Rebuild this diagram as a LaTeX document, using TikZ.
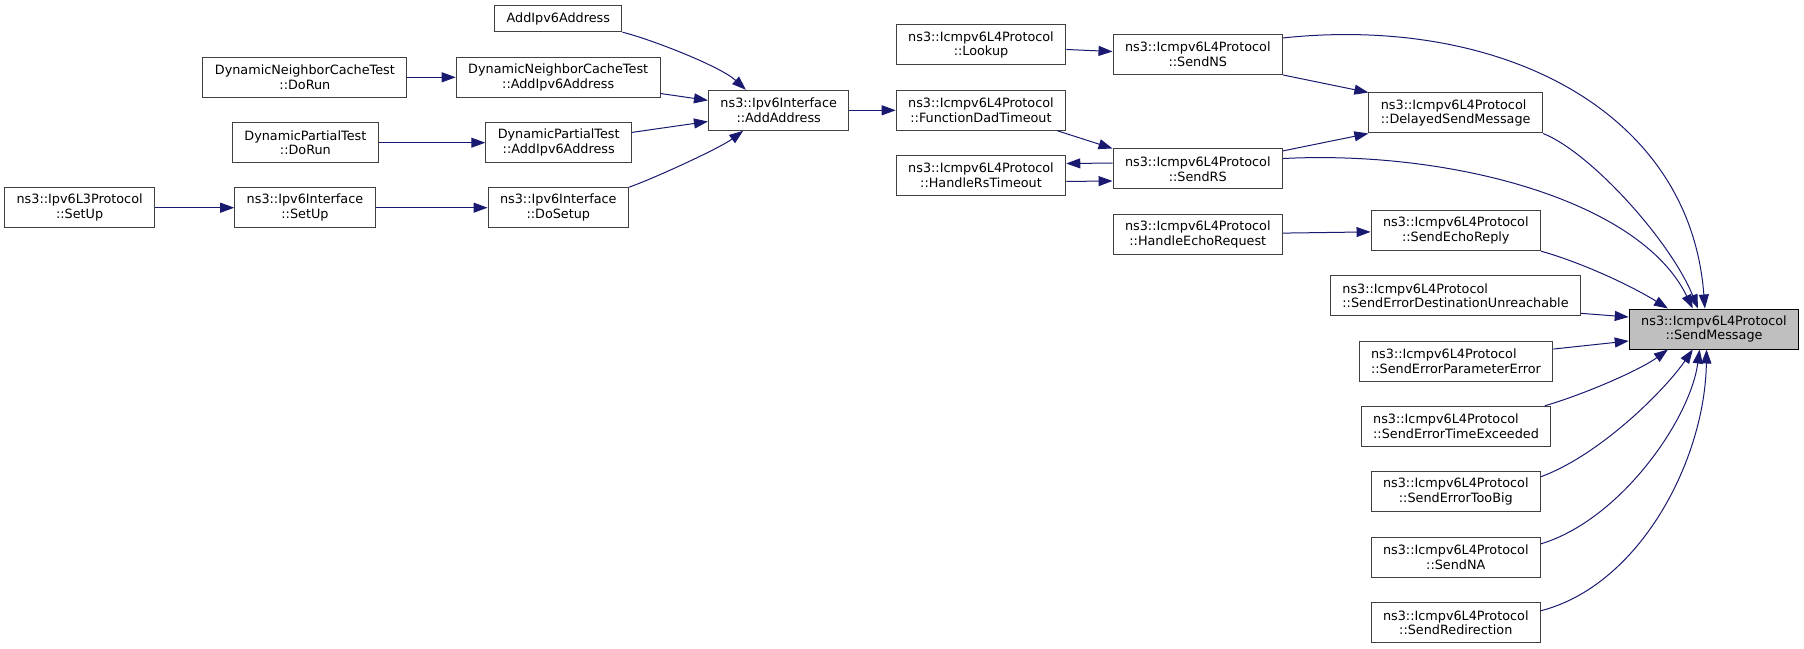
\documentclass[tikz,border=0pt]{standalone}
\usepackage{fontspec}
\setmainfont{DejaVu Sans}
\usetikzlibrary{arrows.meta,positioning}
\definecolor{navy}{HTML}{191970}
\definecolor{boxline}{HTML}{404040}

\begin{document}
\begin{tikzpicture}[
  x=0.75pt, y=-0.75pt,
  block/.style={rectangle, draw=boxline, line width=0.75pt, fill=white, align=center,
    inner xsep=9pt, inner ysep=2pt, minimum height=30pt, font=\fontsize{9.6}{11}\selectfont},
  root/.style={block, draw=black, fill=black!25},
  call/.style={draw=navy, line width=0.75pt, -{Triangle[length=10.5pt,width=7.5pt]}},
  node distance=190pt
]
\useasboundingbox (0,0) rectangle (1804,649);

% callers of AddAddress
\node[block, minimum height=19.5pt] (addv6) at (558.3,18.7) {AddIpv6Address};
\node[block] (dncta) at (558.2,77.3) {DynamicNeighborCacheTest\\::AddIpv6Address};
\node[block, left of=dncta] (dnctrun) {DynamicNeighborCacheTest\\::DoRun};
\node[block] (dpta) at (558.7,142.7) {DynamicPartialTest\\::AddIpv6Address};
\node[block, left of=dpta] (dptrun) {DynamicPartialTest\\::DoRun};
\node[block] (dosetup) at (558.3,207.7) {ns3::Ipv6Interface\\::DoSetup};
\node[block, left of=dosetup] (ifsetup) {ns3::Ipv6Interface\\::SetUp};
\node[block, left of=ifsetup, node distance=169pt] (l3setup) {ns3::Ipv6L3Protocol\\::SetUp};
\node[block] (addaddr) at (778.7,110.3) {ns3::Ipv6Interface\\::AddAddress};

% Icmpv6L4Protocol
\node[block, right of=addaddr, node distance=151.7pt] (fdt) {ns3::Icmpv6L4Protocol\\::FunctionDadTimeout};
\node[block] (lookup) at (981,45) {ns3::Icmpv6L4Protocol\\::Lookup};
\node[block] (hrt) at (981,175.5) {ns3::Icmpv6L4Protocol\\::HandleRsTimeout};
\node[block] (sendns) at (1197.8,54.5) {ns3::Icmpv6L4Protocol\\::SendNS};
\node[block] (sendrs) at (1197.8,169) {ns3::Icmpv6L4Protocol\\::SendRS};
\node[block] (hecho) at (1197.8,234.3) {ns3::Icmpv6L4Protocol\\::HandleEchoRequest};
\node[block, align=left] (delayed) at (1455.7,113) {ns3::Icmpv6L4Protocol\\::DelayedSendMessage};
\node[block] (echoreply) at (1455.8,230.7) {ns3::Icmpv6L4Protocol\\::SendEchoReply};
\node[block, align=left] (errdest) at (1455.5,295.7) {ns3::Icmpv6L4Protocol\\::SendErrorDestinationUnreachable};
\node[block, align=left] (paramerr) at (1456,361) {ns3::Icmpv6L4Protocol\\::SendErrorParameterError};
\node[block, align=left] (timeexc) at (1456,426.3) {ns3::Icmpv6L4Protocol\\::SendErrorTimeExceeded};
\node[block] (toobig) at (1455.8,491.7) {ns3::Icmpv6L4Protocol\\::SendErrorTooBig};
\node[block] (sendna) at (1455.8,557.3) {ns3::Icmpv6L4Protocol\\::SendNA};
\node[block] (redir) at (1455.8,622.7) {ns3::Icmpv6L4Protocol\\::SendRedirection};
\node[root] (sendmsg) at (1714,329) {ns3::Icmpv6L4Protocol\\::SendMessage};

\draw[call] (dnctrun) -- (dncta);
\draw[call] (dptrun) -- (dpta);
\draw[call] (l3setup) -- (ifsetup);
\draw[call] (ifsetup) -- (dosetup);
\draw[call] (addv6.south east) .. controls (650,39) and (720,66) .. (addaddr.148);
\draw[call] (dncta.-9) -- (addaddr.172);
\draw[call] (dpta.8) -- (addaddr.-171);
\draw[call] (dosetup.north east) .. controls (655,178) and (720,148) .. (addaddr.210);
\draw[call] (addaddr) -- (fdt);

\draw[call] (lookup.-3) -- (sendns.178);
\draw[call] (fdt.-15) -- (sendrs.north west);
\draw[call] (sendrs.176) -- (hrt.8);
\draw[call] (hrt.-4) -- (sendrs.-172);
\draw[call] (sendns.south east) -- (delayed.north west);
\draw[call] (sendrs.12) -- (delayed.south west);
\draw[call] (hecho) -- (echoreply);

\draw[call] (sendns.11) .. controls (1500,15) and (1690,110) .. (sendmsg.114);
\draw[call] (delayed.south east) .. controls (1590,152) and (1670,240) .. (sendmsg.128);
\draw[call] (sendrs.7) .. controls (1450,150) and (1640,200) .. (sendmsg.136);
\draw[call] (echoreply.south east) .. controls (1580,262) and (1630,285) .. (sendmsg.156);
\draw[call] (errdest.-8) -- (sendmsg.172);
\draw[call] (paramerr.7) -- (sendmsg.-172);
\draw[call] (timeexc.13) .. controls (1585,394) and (1640,370) .. (sendmsg.204);
\draw[call] (toobig.10) .. controls (1600,455) and (1665,390) .. (sendmsg.224);
\draw[call] (sendna.9) .. controls (1620,520) and (1690,420) .. (sendmsg.235);
\draw[call] (redir.8) .. controls (1640,585) and (1705,460) .. (sendmsg.250);
\end{tikzpicture}
\end{document}
